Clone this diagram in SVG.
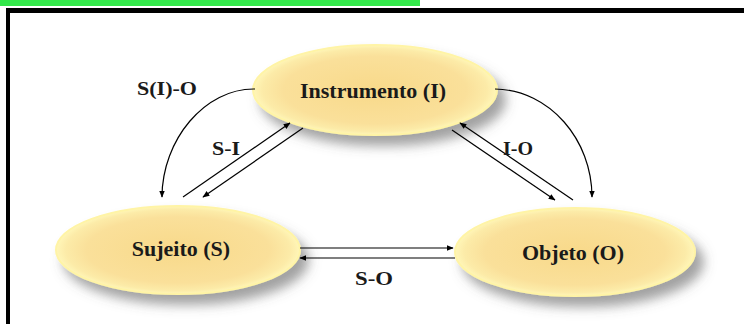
<svg xmlns="http://www.w3.org/2000/svg" width="744" height="324" viewBox="0 0 744 324">
<defs>
<radialGradient id="fillG" cx="50%" cy="50%" r="50%">
<stop offset="0%" stop-color="#F8D98A"/>
<stop offset="75%" stop-color="#FAE09A"/>
<stop offset="92%" stop-color="#FCEBA8"/>
<stop offset="100%" stop-color="#FFF6B8"/>
</radialGradient>
<filter id="shadow" x="-20%" y="-30%" width="150%" height="180%">
<feDropShadow dx="8" dy="10" stdDeviation="6" flood-color="#555" flood-opacity="0.55"/>
</filter>
<marker id="arr" viewBox="0 0 10 10" refX="9" refY="5" markerWidth="7" markerHeight="7" markerUnits="userSpaceOnUse" orient="auto">
<path d="M0,1 L10,5 L0,9 Z" fill="#000"/>
</marker>
<style>
.node{fill:url(#fillG);stroke:#FFF4A6;stroke-width:2;filter:url(#shadow)}
.nt{font-family:"Liberation Serif","Times New Roman",serif;font-weight:bold;font-size:22px;fill:#1a1a1a;text-anchor:middle}
.lb{font-family:"Liberation Serif","Times New Roman",serif;font-weight:bold;font-size:18px;fill:#1a1a1a}
.c{fill:none;stroke:#000;stroke-width:1.2;marker-end:url(#arr)}
</style>
</defs>
<rect x="0" y="0" width="744" height="324" fill="#fff"/>
<rect x="0" y="0" width="420" height="6" fill="#33E84A"/>
<rect x="6" y="8" width="738" height="5" fill="#000"/>
<rect x="6" y="8" width="4" height="316" fill="#000"/>

<g id="instrumento">
<ellipse class="node" cx="375" cy="90" rx="122" ry="45"/>
<text class="nt" x="373" y="98">Instrumento (I)</text>
</g>
<g id="sujeito">
<ellipse class="node" cx="178" cy="250" rx="122" ry="44"/>
<text class="nt" x="181" y="256">Sujeito (S)</text>
</g>
<g id="objeto">
<ellipse class="node" cx="575" cy="252" rx="120" ry="44"/>
<text class="nt" x="573" y="260">Objeto (O)</text>
</g>

<g id="connectors">
<path class="c" d="M255,89 C205,88 162,140 162,197"/>
<path class="c" d="M495,89 C550,90 592,140 592,197"/>
<path class="c" d="M183,197 L290,123"/>
<path class="c" d="M303,128 L203,197"/>
<path class="c" d="M452,130 L555,200"/>
<path class="c" d="M573,200 L460,123"/>
<path class="c" d="M300,248 L453,248"/>
<path class="c" d="M455,258 L300,258"/>
</g>

<g id="labels">
<text class="lb" x="137" y="95" textLength="60" lengthAdjust="spacingAndGlyphs">S(I)-O</text>
<text class="lb" x="212" y="155" textLength="28" lengthAdjust="spacingAndGlyphs">S-I</text>
<text class="lb" x="503" y="155" textLength="30" lengthAdjust="spacingAndGlyphs">I-O</text>
<text class="lb" x="355" y="285" textLength="38" lengthAdjust="spacingAndGlyphs">S-O</text>
</g>
</svg>
